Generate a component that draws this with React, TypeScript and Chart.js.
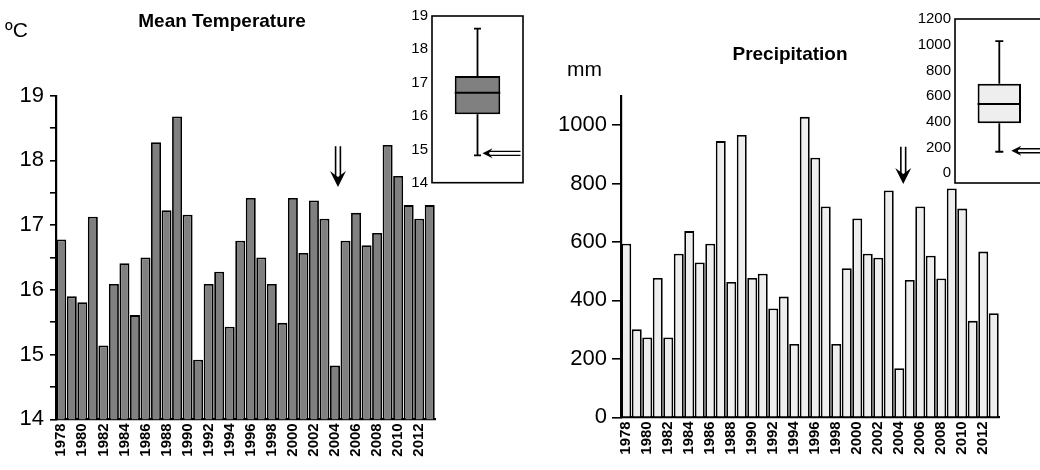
import React, { useEffect, useRef } from 'react';
import { Chart, registerables } from 'chart.js';

Chart.register(...registerables);

const years = [
  '1978', '1979', '1980', '1981', '1982', '1983', '1984', '1985', '1986', '1987',
  '1988', '1989', '1990', '1991', '1992', '1993', '1994', '1995', '1996', '1997',
  '1998', '1999', '2000', '2001', '2002', '2003', '2004', '2005', '2006', '2007',
  '2008', '2009', '2010', '2011', '2012', '2013',
];

const meanTemperature = [
  16.78, 15.9, 15.81, 17.13, 15.14, 16.09, 16.41, 15.61, 16.5, 18.28,
  17.23, 18.68, 17.16, 14.92, 16.09, 16.28, 15.43, 16.76, 17.42, 16.5,
  16.09, 15.49, 17.42, 16.57, 17.38, 17.1, 14.83, 16.76, 17.19, 16.69,
  16.88, 18.24, 17.76, 17.31, 17.1, 17.31,
];

const precipitation = [
  594, 301, 273, 477, 273, 560, 637, 530, 594, 945,
  463, 966, 477, 491, 372, 413, 251, 1028, 888, 721,
  251, 510, 680, 560, 546, 776, 168, 470, 721, 553,
  475, 783, 714, 330, 567, 356,
];

// box plot stats: [min, q1, median, q3, max]
const temperatureBox = [14.82, 16.05, 16.7, 17.2, 18.62];
const precipitationBox = [168, 390, 540, 697, 1028];

const tempInsetTicks = [14, 15, 16, 17, 18, 19];
const precipInsetTicks = [0, 200, 400, 600, 800, 1000, 1200];

const markedYear = '2004';
const tempArrowRange = [18.22, 17.59];
const precipArrowRange = [926, 798];

const tempTitle = 'Mean Temperature';
const tempUnit = 'ºC';
const precipTitle = 'Precipitation';
const precipUnit = 'mm';

const FONT = '"Liberation Sans", Arial, Helvetica, sans-serif';

function drawDownArrow(ctx: CanvasRenderingContext2D, x: number, yTop: number, yTip: number) {
  ctx.save();
  ctx.strokeStyle = '#000';
  ctx.fillStyle = '#000';
  ctx.lineWidth = 1.6;
  ctx.beginPath();
  ctx.moveTo(x - 2.4, yTop);
  ctx.lineTo(x - 2.4, yTip - 9);
  ctx.moveTo(x + 2.4, yTop);
  ctx.lineTo(x + 2.4, yTip - 9);
  ctx.stroke();
  ctx.beginPath();
  ctx.moveTo(x, yTip);
  ctx.lineTo(x - 8, yTip - 16);
  ctx.lineTo(x, yTip - 10);
  ctx.lineTo(x + 8, yTip - 16);
  ctx.closePath();
  ctx.fill();
  ctx.restore();
}

function drawLeftArrow(ctx: CanvasRenderingContext2D, xTip: number, xTail: number, y: number) {
  ctx.save();
  ctx.strokeStyle = '#000';
  ctx.fillStyle = '#000';
  ctx.lineWidth = 1.4;
  ctx.beginPath();
  ctx.moveTo(xTail, y - 2);
  ctx.lineTo(xTip + 6, y - 2);
  ctx.moveTo(xTail, y + 2);
  ctx.lineTo(xTip + 6, y + 2);
  ctx.stroke();
  ctx.beginPath();
  ctx.moveTo(xTip, y);
  ctx.lineTo(xTip + 10, y - 5);
  ctx.lineTo(xTip + 6.5, y);
  ctx.lineTo(xTip + 10, y + 5);
  ctx.closePath();
  ctx.fill();
  ctx.restore();
}

type MainOpts = {
  values: number[];
  fill: string;
  yMin: number;
  yMax: number;
  step: number;
  showLabel: (v: number) => boolean;
  tickLen: number;
  labelPad: number;
  yWidth: number;
  padRight: number;
  padTop: number;
  xHeight: number;
  title: string;
  titleX: number;
  titleY: number;
  unit: string;
  unitX: number;
  unitY: number;
  arrowRange: number[];
  arrowDx: number;
};

function mainConfig(o: MainOpts): any {
  const annot = {
    id: 'annot',
    afterDraw(chart: any) {
      const ctx = chart.ctx as CanvasRenderingContext2D;
      ctx.save();
      ctx.fillStyle = '#000';
      ctx.textBaseline = 'middle';
      ctx.font = `bold 19px ${FONT}`;
      ctx.textAlign = 'center';
      ctx.fillText(o.title, o.titleX, o.titleY);
      ctx.font = `21px ${FONT}`;
      ctx.textAlign = 'left';
      ctx.fillText(o.unit, o.unitX, o.unitY);
      ctx.restore();
      const xs = chart.scales.x;
      const ys = chart.scales.y;
      const idx = years.indexOf(markedYear);
      const x = xs.getPixelForValue(idx) + o.arrowDx;
      drawDownArrow(ctx, x, ys.getPixelForValue(o.arrowRange[0]), ys.getPixelForValue(o.arrowRange[1]));
    },
  };
  return {
    type: 'bar',
    data: {
      labels: years,
      datasets: [
        {
          data: o.values,
          backgroundColor: o.fill,
          borderColor: '#000',
          borderWidth: 1.8,
          barPercentage: 0.95,
          categoryPercentage: 1,
        },
      ],
    },
    options: {
      animation: false,
      responsive: false,
      maintainAspectRatio: false,
      layout: { padding: { left: 0, right: o.padRight, top: o.padTop, bottom: 0 } },
      plugins: { legend: { display: false }, tooltip: { enabled: false } },
      scales: {
        x: {
          type: 'category',
          offset: true,
          grid: { display: false, drawTicks: false },
          border: { display: true, color: '#000', width: 2.2 },
          ticks: {
            autoSkip: false,
            minRotation: 90,
            maxRotation: 90,
            padding: 4,
            color: '#000',
            font: { family: FONT, size: 15, weight: 'bold' },
            callback: (_v: any, i: number) => (i % 2 === 0 ? years[i] : ''),
          },
          afterFit: (s: any) => {
            s.height = o.xHeight;
          },
        },
        y: {
          min: o.yMin,
          max: o.yMax,
          grid: {
            drawOnChartArea: false,
            drawTicks: true,
            tickLength: o.tickLen,
            color: '#000',
            lineWidth: 1.6,
          },
          border: { display: true, color: '#000', width: 2.2 },
          ticks: {
            stepSize: o.step,
            padding: o.labelPad,
            color: '#000',
            font: { family: FONT, size: 22 },
            callback: (v: any) => (o.showLabel(Number(v)) ? String(v) : ''),
          },
          afterFit: (s: any) => {
            s.width = o.yWidth;
          },
        },
      },
    },
    plugins: [annot],
  };
}

type InsetOpts = {
  stats: number[];
  fill: string;
  yMin: number;
  yMax: number;
  ticks: number[];
  yWidth: number;
  padTop: number;
  padBottom: number;
  padRight: number;
  boxPct: number;
  capHalf: number;
  arrowDx: number;
  arrowTail: number;
  arrowDy: number;
};

function insetConfig(o: InsetOpts): any {
  const boxPlugin = {
    id: 'boxplot',
    beforeDatasetsDraw(chart: any) {
      const { ctx, chartArea: a } = chart;
      ctx.save();
      ctx.fillStyle = '#fff';
      ctx.fillRect(a.left, a.top, a.right - a.left, a.bottom - a.top);
      ctx.strokeStyle = '#000';
      ctx.lineWidth = 1.6;
      ctx.strokeRect(a.left, a.top, a.right - a.left, a.bottom - a.top);
      const ys = chart.scales.y;
      const el = chart.getDatasetMeta(0).data[0];
      const cx = el.x;
      ctx.lineWidth = 1.8;
      ctx.beginPath();
      ctx.moveTo(cx, ys.getPixelForValue(o.stats[0]));
      ctx.lineTo(cx, ys.getPixelForValue(o.stats[1]));
      ctx.moveTo(cx, ys.getPixelForValue(o.stats[3]));
      ctx.lineTo(cx, ys.getPixelForValue(o.stats[4]));
      ctx.moveTo(cx - o.capHalf, ys.getPixelForValue(o.stats[0]));
      ctx.lineTo(cx + o.capHalf, ys.getPixelForValue(o.stats[0]));
      ctx.moveTo(cx - o.capHalf, ys.getPixelForValue(o.stats[4]));
      ctx.lineTo(cx + o.capHalf, ys.getPixelForValue(o.stats[4]));
      ctx.stroke();
      ctx.restore();
    },
    afterDatasetsDraw(chart: any) {
      const { ctx } = chart;
      const ys = chart.scales.y;
      const el = chart.getDatasetMeta(0).data[0];
      const cx = el.x;
      const w = el.width;
      ctx.save();
      ctx.strokeStyle = '#000';
      ctx.lineWidth = 2;
      ctx.beginPath();
      const ym = ys.getPixelForValue(o.stats[2]);
      ctx.moveTo(cx - w / 2, ym);
      ctx.lineTo(cx + w / 2, ym);
      ctx.stroke();
      ctx.restore();
      const yMinPx = ys.getPixelForValue(o.stats[0]);
      drawLeftArrow(ctx, cx + o.arrowDx, cx + o.arrowTail, yMinPx + o.arrowDy);
    },
  };
  return {
    type: 'bar',
    data: {
      labels: [''],
      datasets: [
        {
          data: [[o.stats[1], o.stats[3]]],
          backgroundColor: o.fill,
          borderColor: '#000',
          borderWidth: 2,
          borderSkipped: false,
          barPercentage: o.boxPct,
          categoryPercentage: 1,
        },
      ],
    },
    options: {
      animation: false,
      responsive: false,
      maintainAspectRatio: false,
      layout: { padding: { left: 0, right: o.padRight, top: o.padTop, bottom: o.padBottom } },
      plugins: { legend: { display: false }, tooltip: { enabled: false } },
      scales: {
        x: { display: false },
        y: {
          min: o.yMin,
          max: o.yMax,
          grid: { display: false, drawTicks: false },
          border: { display: false },
          ticks: {
            padding: 4,
            color: '#000',
            font: { family: FONT, size: 15 },
            callback: (v: any) => String(v),
          },
          afterBuildTicks: (s: any) => {
            s.ticks = o.ticks.map((v) => ({ value: v }));
          },
          afterFit: (s: any) => {
            s.width = o.yWidth;
          },
        },
      },
    },
    plugins: [boxPlugin],
  };
}

export default function App() {
  const c1 = useRef<HTMLCanvasElement>(null);
  const c2 = useRef<HTMLCanvasElement>(null);
  const c3 = useRef<HTMLCanvasElement>(null);
  const c4 = useRef<HTMLCanvasElement>(null);

  useEffect(() => {
    const charts: Chart[] = [];
    charts.push(
      new Chart(
        c1.current!,
        mainConfig({
          values: meanTemperature,
          fill: '#808080',
          yMin: 14,
          yMax: 19,
          step: 0.5,
          showLabel: (v) => Number.isInteger(v),
          tickLen: 6,
          labelPad: 6,
          yWidth: 56,
          padRight: 85,
          padTop: 95.7,
          xHeight: 470 - 419.3,
          title: tempTitle,
          titleX: 222,
          titleY: 22,
          unit: tempUnit,
          unitX: 5,
          unitY: 31,
          arrowRange: tempArrowRange,
          arrowDx: 3,
        })
      )
    );
    charts.push(
      new Chart(
        c2.current!,
        mainConfig({
          values: precipitation,
          fill: '#eeeeee',
          yMin: 0,
          yMax: 1100,
          step: 100,
          showLabel: (v) => v % 200 === 0 && v <= 1000,
          tickLen: 9,
          labelPad: 5,
          yWidth: 101,
          padRight: 41,
          padTop: 95.8,
          xHeight: 470 - 417.3,
          title: precipTitle,
          titleX: 270,
          titleY: 55,
          unit: precipUnit,
          unitX: 47,
          unitY: 70,
          arrowRange: precipArrowRange,
          arrowDx: 4,
        })
      )
    );
    charts.push(
      new Chart(
        c3.current!,
        insetConfig({
          stats: temperatureBox,
          fill: '#808080',
          yMin: 14,
          yMax: 19,
          ticks: tempInsetTicks,
          yWidth: 52,
          padTop: 16,
          padBottom: 17.3,
          padRight: 17,
          boxPct: 0.5,
          capHalf: 3.5,
          arrowDx: 5,
          arrowTail: 43,
          arrowDy: -2,
        })
      )
    );
    charts.push(
      new Chart(
        c4.current!,
        insetConfig({
          stats: precipitationBox,
          fill: '#eeeeee',
          yMin: -75,
          yMax: 1200,
          ticks: precipInsetTicks,
          yWidth: 55,
          padTop: 19,
          padBottom: 17,
          padRight: 16.4,
          boxPct: 0.49,
          capHalf: 4,
          arrowDx: 12,
          arrowTail: 60,
          arrowDy: -1,
        })
      )
    );
    return () => charts.forEach((c) => c.destroy());
  }, []);

  const abs = (left: number, width: number, height: number): React.CSSProperties => ({
    position: 'absolute',
    left,
    top: 0,
    width,
    height,
  });

  return (
    <div
      style={{
        position: 'fixed',
        left: 0,
        top: 0,
        width: 1040,
        height: 470,
        overflow: 'hidden',
        background: '#fff',
      }}
    >
      <canvas ref={c1} width={520} height={470} style={abs(0, 520, 470)} />
      <canvas ref={c2} width={520} height={470} style={abs(520, 520, 470)} />
      <canvas ref={c3} width={160} height={200} style={abs(380, 160, 200)} />
      <canvas ref={c4} width={160} height={200} style={abs(900, 160, 200)} />
    </div>
  );
}
